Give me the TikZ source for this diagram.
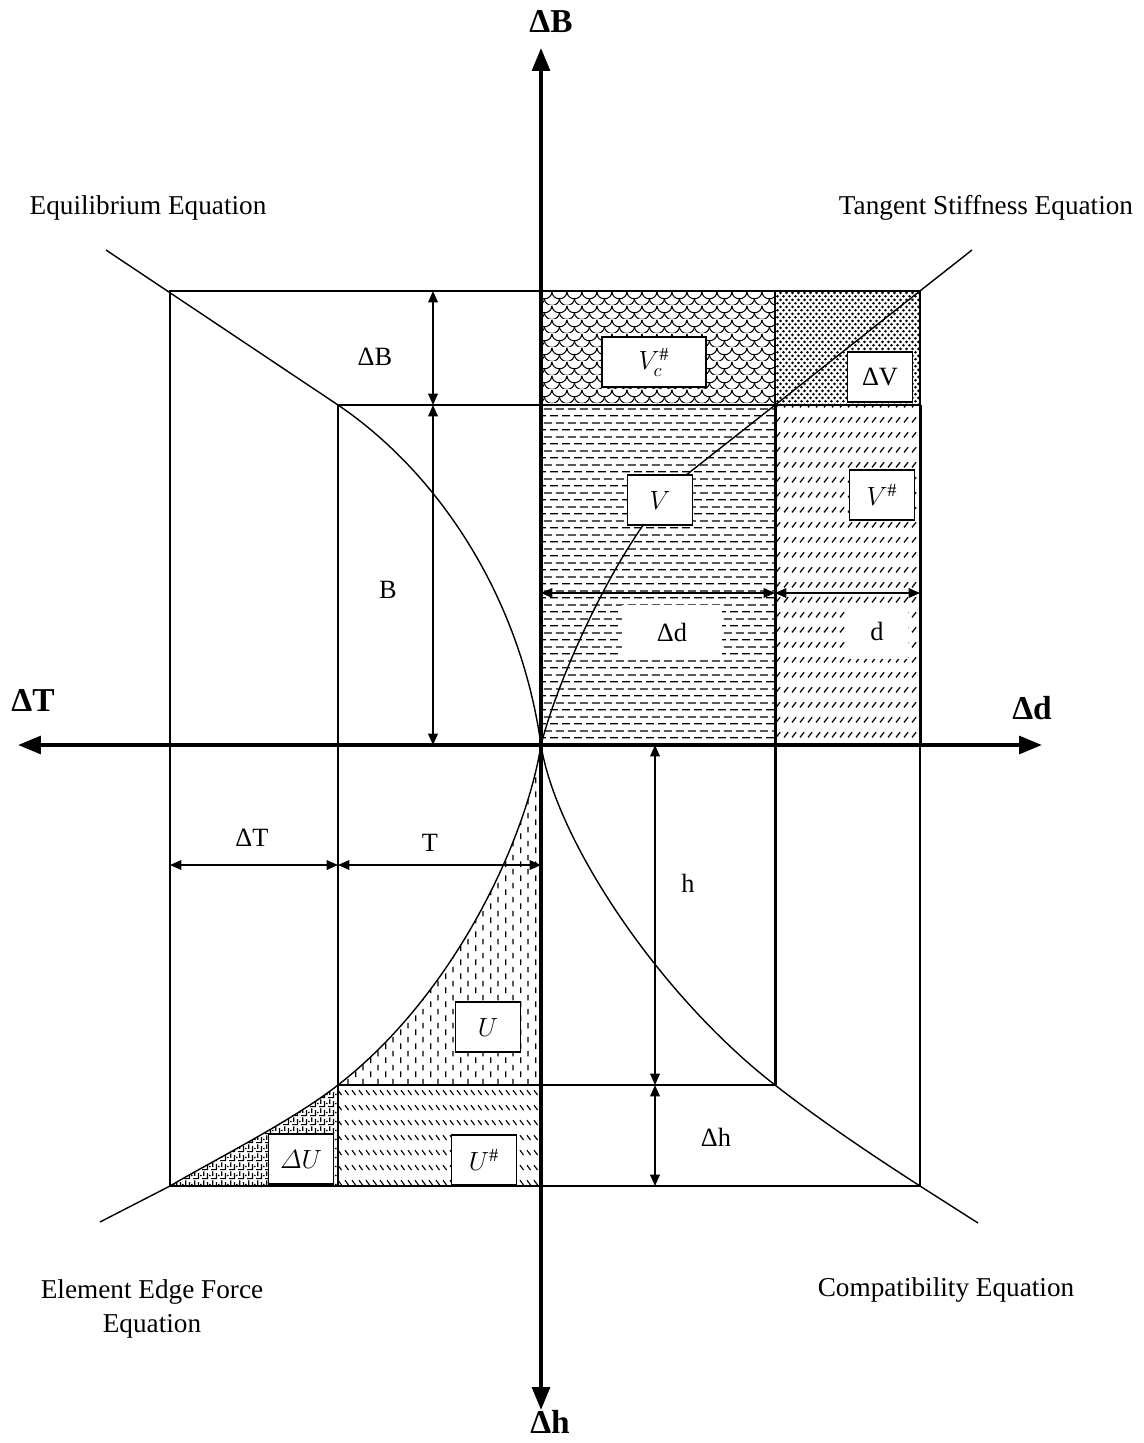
\RequirePackage{fix-cm}
\documentclass[tikz,border=0pt]{standalone}
\usepackage{amsmath}
\usepackage{fontspec}
\setmainfont{Liberation Serif}
\usepackage{tikz}
\usetikzlibrary{arrows.meta, patterns.meta}

% fill patterns of the areas
\tikzdeclarepattern{
  name=hdashes, type=uncolored,
  bounding box={(0pt,0pt) and (6.8pt,8pt)},
  tile size={(6.8pt,8pt)},
  code={
    \draw[line width=0.75pt] (0.6pt,2pt) -- (5.1pt,2pt);
    \draw[line width=0.75pt] (0pt,6pt) -- (1.7pt,6pt) (4pt,6pt) -- (6.8pt,6pt);
  }
}
\tikzdeclarepattern{
  name=vdashes, type=uncolored,
  bounding box={(0pt,0pt) and (8.4pt,8pt)},
  tile size={(8.4pt,8pt)},
  code={
    \draw[line width=0.8pt] (1pt,0.6pt) -- (1pt,4pt);
    \draw[line width=0.8pt] (5.2pt,4.6pt) -- (5.2pt,8pt);
  }
}
\tikzdeclarepattern{
  name=fslash, type=uncolored,
  bounding box={(0pt,0pt) and (4.7pt,8.5pt)},
  tile size={(4.7pt,8.5pt)},
  code={
    \draw[line width=0.75pt] (0.6pt,2.6pt) -- (3.2pt,5.6pt);
  }
}
\tikzdeclarepattern{
  name=bslash, type=uncolored,
  bounding box={(0pt,0pt) and (4pt,8.5pt)},
  tile size={(4pt,8.5pt)},
  code={
    \draw[line width=0.7pt] (0.6pt,5.6pt) -- (3pt,2.8pt);
  }
}
\tikzdeclarepattern{
  name=dotfill, type=uncolored,
  bounding box={(0pt,0pt) and (3.4pt,4.2pt)},
  tile size={(3.4pt,4.2pt)},
  code={
    \fill (0.85pt,1.05pt) circle[radius=0.85pt];
    \fill (2.55pt,3.15pt) circle[radius=0.85pt];
  }
}
\tikzdeclarepattern{
  name=scales, type=uncolored,
  bounding box={(0pt,0pt) and (8.5pt,8pt)},
  tile size={(8.5pt,8pt)},
  code={
    \draw[line width=0.6pt] (0pt,8pt) arc[start angle=180, end angle=360, radius=4.25pt];
    \draw[line width=0.6pt] (-4.25pt,4pt) arc[start angle=180, end angle=360, radius=4.25pt];
    \draw[line width=0.6pt] (4.25pt,4pt) arc[start angle=180, end angle=360, radius=4.25pt];
  }
}
\tikzdeclarepattern{
  name=maze, type=uncolored,
  bounding box={(0pt,0pt) and (5pt,5pt)},
  tile size={(5pt,5pt)},
  code={
    \draw[line width=0.65pt] (0pt,0.8pt) -- (3.2pt,0.8pt) -- (3.2pt,4pt);
    \draw[line width=0.65pt] (1pt,2.4pt) -- (1pt,5pt);
    \draw[line width=0.65pt] (4.2pt,2.6pt) -- (5pt,2.6pt);
  }
}

\begin{document}
\begin{tikzpicture}[
  x=0.02cm, y=-0.02cm,
  frame/.style={line width=0.8pt},
  heavy/.style={line width=1.7pt},
  axis/.style={>={Triangle[length=13pt, width=10pt]}, <->, line width=2.2pt},
  dim/.style={>={Triangle[length=6.5pt, width=5.5pt]}, <->, line width=0.9pt},
  curve/.style={line width=0.8pt},
  tag/.style={draw, fill=white, line width=0.8pt,
    minimum width=1.3cm, minimum height=1cm, inner sep=0pt,
    font=\fontsize{15}{18}\selectfont},
  blank/.style={fill=white, inner sep=0pt, font=\fontsize{15}{18}\selectfont},
  dimlabel/.style={font=\fontsize{15}{18}\selectfont, inner sep=1pt},
  axlabel/.style={font=\fontsize{19}{22}\selectfont\bfseries, inner sep=0pt},
  title/.style={font=\fontsize{15.5}{19.3}\selectfont, align=center}
]
\useasboundingbox (0,0) rectangle (1143,1443);

% ---- Points of the frames ----
\coordinate (O) at (541,745);
\coordinate (TL) at (170,291);
\coordinate (TR) at (920,291);
\coordinate (BL) at (170,1186);
\coordinate (BR) at (920,1186);
\coordinate (tl) at (338,405);
\coordinate (tr) at (920,405);
\coordinate (bl) at (338,1085);
\coordinate (br) at (775,1085);
\coordinate (mt) at (775,291);
\coordinate (mb) at (338,1186);

% ---- Hatched areas ----
\fill[pattern=scales] (O |- TL) rectangle (tl -| br);
\fill[pattern=dotfill] (mt) rectangle (tr);
\fill[pattern=hdashes] (O |- tl) rectangle (O -| br);
\fill[pattern=fslash] (tl -| br) rectangle (O -| tr);
\fill[pattern=bslash] (bl) rectangle (O |- BR);
\fill[pattern=vdashes] (O) .. controls (526,840) and (454,995) .. (bl) -- (O |- bl) -- cycle;
\fill[pattern=maze] (bl) .. controls (292,1121) and (214,1160) .. (BL) -- (mb) -- cycle;

% ---- Frames ----
\draw[frame] (TL) rectangle (BR);
\draw[frame] (tl) -- (tr);
\draw[frame] (tl) -- (mb);
\draw[frame] (bl) -- (br);
\draw[frame] (mt) -- (tl -| br);
\draw[heavy] (tl -| br) -- (br);
\draw[heavy] (tr) -- (O -| tr);

% ---- Curves ----
\coordinate (eqEnd) at (106,250);
\coordinate (tsKnee) at (690,472);
\coordinate (tsEnd) at (972,250);
\coordinate (efEnd) at (100,1222);
\coordinate (coEnd) at (978,1223);

% Equilibrium
\draw[curve] (eqEnd) -- (tl) .. controls (437,472) and (520,595) .. (O);
% Compatibility
\draw[curve] (O) .. controls (556,840) and (659,995) .. (br)
  .. controls (821,1121) and (875,1157) .. (BR) -- (coEnd);
% Tangent stiffness
\draw[curve] (O) .. controls (560,670) and (629,520) .. (tsKnee) -- (tsEnd);
% Element edge force
\draw[curve] (O) .. controls (526,840) and (454,995) .. (bl)
  .. controls (292,1121) and (214,1160) .. (BL) -- (efEnd);

% ---- Axes ----
\coordinate (axN) at (541,48);
\coordinate (axS) at (541,1410);
\coordinate (axW) at (18,745);
\coordinate (axE) at (1042,745);
\draw[axis] (axS) -- (axN);
\draw[axis] (axW) -- (axE);

\node[axlabel] (lblB) at (551,22) {ΔB};
\node[axlabel] (lblT) at (33,700) {ΔT};
\node[axlabel] (lbld) at (1032,708) {Δd};
\node[axlabel] (lblh) at (550,1422) {Δh};

% ---- Dimension arrows ----
\coordinate (xB) at (433,745);
\coordinate (yd) at (541,593);
\coordinate (yT) at (170,865);
\coordinate (xh) at (655,745);

\draw[dim] (xB |- TL) -- (xB |- tl);
\draw[dim] (xB |- tl) -- (xB);
\draw[dim] (yd) -- (yd -| br);
\draw[dim] (yd -| br) -- (yd -| tr);
\draw[dim] (yT) -- (yT -| tl);
\draw[dim] (yT -| tl) -- (yT -| O);
\draw[dim] (xh) -- (xh |- br);
\draw[dim] (xh |- br) -- (xh |- BR);

\node[dimlabel] (dBl) at (375,357) {ΔB};
\node[dimlabel] (Bl) at (388,590) {B};
\node[dimlabel] (dTl) at (252,838) {ΔT};
\node[dimlabel] (Tl) at (430,843) {T};
\node[dimlabel] (hl) at (688,883) {h};
\node[dimlabel] (dhl) at (716,1137) {Δh};
\node[blank, minimum width=2cm, minimum height=1.1cm] (ddl) at (672,632) {Δd};
\node[blank, minimum width=1.25cm, minimum height=1.1cm] (dl) at (877,631) {d};

% ---- Area tags ----
\node[tag, minimum width=2.08cm] (Vc) at (654,362) {$V_c^{\#}$};
\node[tag] (dV) at (880,377) {ΔV};
\node[tag] (V) at (660,500) {$V$};
\node[tag] (Vh) at (882,495) {$V^{\#}$};
\node[tag] (U) at (488,1027) {$U$};
\node[tag] (dU) at (301,1159) {$\varDelta U$};
\node[tag] (Uh) at (484,1160) {$U^{\#}$};

% ---- Curve names ----
\node[title] (eqlbl) at (148,208) {Equilibrium Equation};
\node[title] (tslbl) at (986,208) {Tangent Stiffness Equation};
\node[title] (eflbl) at (152,1309) {Element Edge Force\\Equation};
\node[title] (colbl) at (946,1290) {Compatibility Equation};

\end{tikzpicture}
\end{document}
